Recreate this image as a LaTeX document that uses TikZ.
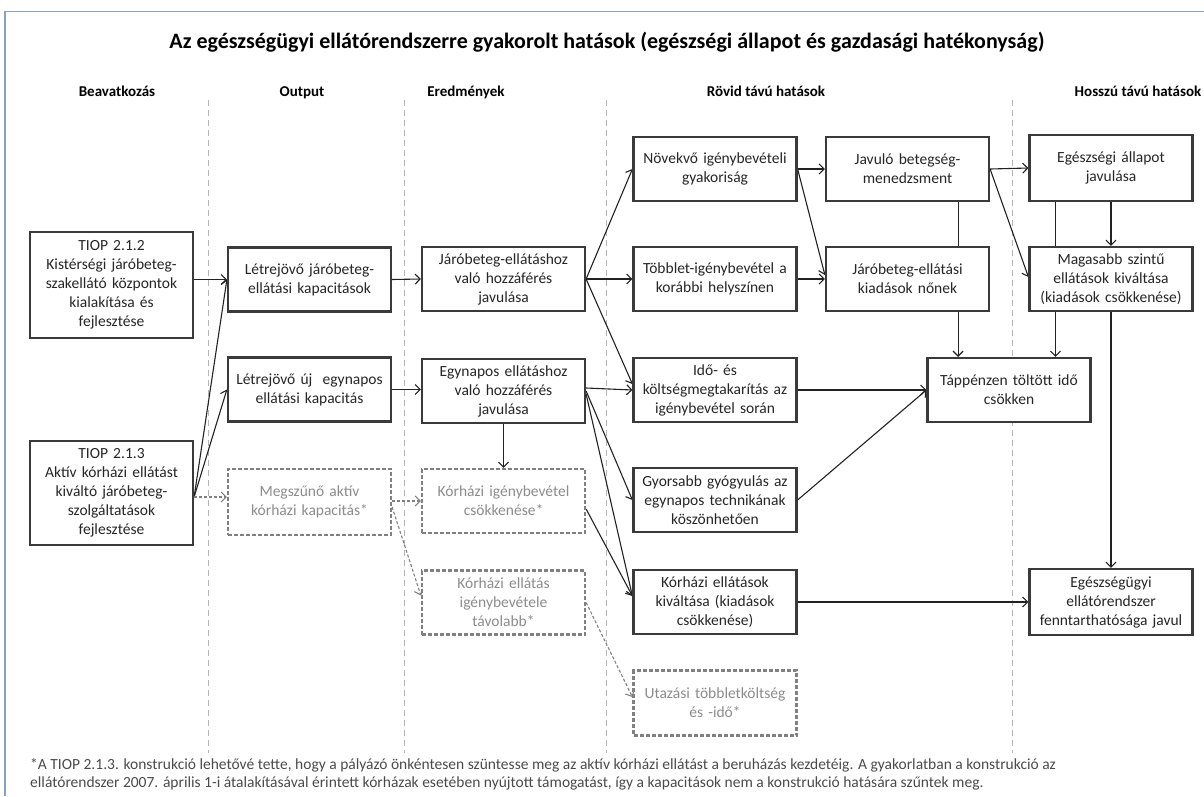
\documentclass[tikz,border=0pt]{standalone}
\usepackage{fontspec}
\setmainfont{Carlito}
\usetikzlibrary{arrows.meta,calc,backgrounds}
\definecolor{bx}{HTML}{3A3A3A}
\definecolor{txt}{HTML}{262626}
\definecolor{dgray}{HTML}{808080}
\definecolor{dtxt}{HTML}{8C8C8C}
\definecolor{ln}{HTML}{222222}
\definecolor{sepc}{HTML}{B4B4B4}
\definecolor{frame}{HTML}{8AA0C2}
\definecolor{fn}{HTML}{4A4A4A}
\begin{document}
\begin{tikzpicture}[x=1pt,y=-1pt,
  box/.style={draw=bx, line width=2.2pt, fill=white, text=txt, align=center,
    minimum width=163pt, minimum height=64pt, text width=159pt, inner sep=0pt,
    font=\fontsize{15.5}{19}\selectfont},
  dbox/.style={box, draw=dgray, dash pattern=on 4pt off 2pt, text=dtxt},
  arr/.style={draw=ln, line width=1.1pt, -{Straight Barb[length=5pt,width=10pt]}},
  darr/.style={arr, draw=dgray, dash pattern=on 3pt off 2pt},
  sep/.style={draw=sepc, line width=1pt, dash pattern=on 6pt off 4pt},
  hdr/.style={font=\fontsize{15}{18}\selectfont\bfseries, text=black, anchor=base},
  ttl/.style={font=\fontsize{22}{26}\selectfont\bfseries, text=black},
  fnote/.style={font=\fontsize{15.5}{18}\selectfont, text=fn, anchor=base west, inner sep=0pt},
]
\useasboundingbox (0,0) rectangle (1204,796);
% frame
\draw[frame, line width=1pt] (5,11) -- (1204,11);
\draw[frame, line width=2.5pt] (5,11) -- (5,796);

% title and headers
\node[ttl] (title) at (607,42) {Az egészségügyi ellátórendszerre gyakorolt hatások (egészségi állapot és gazdasági hatékonyság)};
\node[hdr] (h1) at (117,96) {Beavatkozás};
\node[hdr] (h2) at (302,96) {Output};
\node[hdr] (h3) at (466,96) {Eredmények};
\node[hdr] (h4) at (766,96) {Rövid távú hatások};
\node[hdr] (h5) at (1138,96) {Hosszú távú hatások};

% boxes
\node[box, minimum height=106pt] (tiop1) at (111.5,285) {TIOP 2.1.2\\Kistérségi járóbeteg-\\szakellátó központok\\kialakítása és\\fejlesztése};
\node[box, minimum height=104pt] (tiop2) at (111.5,493) {TIOP 2.1.3\\Aktív kórházi ellátást\\kiváltó járóbeteg-\\szolgáltatások\\fejlesztése};

\node[box] (lj) at (309.5,279.5) {Létrejövő járóbeteg-\\ellátási kapacitások};
\node[box] (le) at (309.5,389.5) {Létrejövő új\ \ egynapos\\ellátási kapacitás};
\node[dbox, minimum height=66pt] (megsz) at (309.5,502) {Megszűnő aktív\\kórházi kapacitás*};

\node[box] (jh) at (503.5,279) {Járóbeteg-ellátáshoz\\való hozzáférés\\javulása};
\node[box] (eh) at (503.5,391) {Egynapos ellátáshoz\\való hozzáférés\\javulása};
\node[dbox] (kic) at (503.5,501) {Kórházi igénybevétel\\csökkenése*};
\node[dbox] (kt) at (503.5,602.5) {Kórházi ellátás\\igénybevétele\\távolabb*};

\node[box] (nov) at (715,169) {Növekvő igénybevételi\\gyakoriság};
\node[box] (tobb) at (715,279) {Többlet-igénybevétel a\\korábbi helyszínen};
\node[box] (ido) at (715,390) {Idő- és\\költségmegtakarítás az\\igénybevétel során};
\node[box] (gyors) at (715,500) {Gyorsabb gyógyulás az\\egynapos technikának\\köszönhetően};
\node[box] (kor) at (715,602) {Kórházi ellátások\\kiváltása (kiadások\\csökkenése)};
\node[dbox, minimum height=65pt] (utaz) at (715,703) {Utazási többletköltség\\és -idő*};

\node[box] (jav) at (907.5,169) {Javuló betegség-\\menedzsment};
\node[box] (jki) at (907.5,279) {Járóbeteg-ellátási\\kiadások nőnek};
\node[box] (tap) at (1009,390) {Táppénzen töltött idő\\csökken};

\node[box, minimum height=66pt] (egal) at (1111,168) {Egészségi állapot\\javulása};
\node[box] (mag) at (1111,279) {Magasabb szintű\\ellátások kiváltása\\(kiadások csökkenése)};
\node[box, minimum height=66pt] (egu) at (1111,602) {Egészségügyi\\ellátórendszer\\fenntarthatósága javul};

% footnote
\node[fnote] (fn1) at (30,769) {*A TIOP 2.1.3. konstrukció lehetővé tette, hogy a pályázó önkéntesen szüntesse meg az aktív kórházi ellátást a beruházás kezdetéig. A gyakorlatban a konstrukció az};
\node[fnote] (fn2) at (30,787) {ellátórendszer 2007. április 1-i átalakításával érintett kórházak esetében nyújtott támogatást, így a kapacitások nem a konstrukció hatására szűntek meg.};

\begin{scope}[on background layer]
% separators
\coordinate (s1t) at (208,100); \coordinate (s1b) at (208,753);
\coordinate (s2t) at (404,100); \coordinate (s2b) at (404,753);
\coordinate (s3t) at (606,100); \coordinate (s3b) at (606,753);
\coordinate (s4t) at (1012,100); \coordinate (s4b) at (1012,753);
\draw[sep] (s1t) -- (s1b);
\draw[sep] (s2t) -- (s2b);
\draw[sep] (s3t) -- (s3b);
\draw[sep] (s4t) -- (s4b);

% connectors
\draw[arr] (tiop1.east |- lj.west) -- (lj.west);
\draw[arr] ([yshift=-4pt]tiop2.east) -- (lj.west);
\draw[arr] ([yshift=-4pt]tiop2.east) -- (le.west);
\draw[darr] ([yshift=-4pt]tiop2.east) -- ([yshift=-4pt]tiop2.east -| megsz.west);
\draw[arr] (lj.east) -- (jh.west);
\draw[arr] (le.east) -- (le.east -| eh.west);
\draw[darr] (megsz.east |- kic.west) -- (kic.west);
\draw[darr] ([yshift=-5pt]megsz.east) -- ([yshift=7pt]kt.west);
\draw[arr] (eh.south) -- (kic.north);

\draw[arr] (jh.east) -- (nov.west);
\draw[arr] (jh.east) -- (tobb.west);
\draw[arr] (jh.east) -- ([yshift=6pt]ido.west);
\draw[arr] ([yshift=3pt]eh.east) -- (ido.west);
\draw[arr] (eh.east) -- (gyors.west);
\draw[arr] ([yshift=-3pt]eh.east) -- ([yshift=6pt]kor.west);
\draw[arr] ([yshift=-8pt]kic.east) -- ([yshift=6pt]kor.west);
\draw[darr] (kt.east) -- ([yshift=6pt]utaz.west);

\draw[arr] (nov.east) -- (jav.west);
\draw[arr] (nov.east) -- ([yshift=4pt]jki.west);
\draw[arr] (tobb.east) -- (jki.west);
\draw[arr] (ido.east) -- (ido.east -| tap.west);
\draw[arr] (gyors.east) -- (tap.west);
\draw[arr] ([xshift=-32pt]jav.south east) -- ([xshift=-32pt]jav.south east |- tap.north);

\draw[arr] (jav.east) -- (egal.west);
\draw[arr] (jav.east) -- ([yshift=2pt]mag.west);
\draw[arr] ([xshift=27pt]egal.south west) -- ([xshift=27pt]egal.south west |- tap.north);
\draw[arr] (egal.south) -- (mag.north);
\draw[arr] (mag.south) -- (egu.north);
\draw[arr] (kor.east) -- (kor.east -| egu.west);
\end{scope}
\end{tikzpicture}
\end{document}
